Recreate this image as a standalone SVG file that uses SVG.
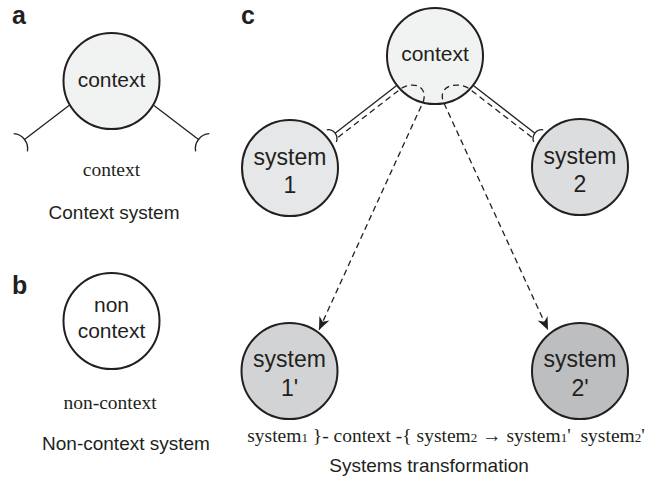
<svg xmlns="http://www.w3.org/2000/svg" width="653" height="485" viewBox="0 0 653 485">
  <style>
    .node { stroke: #231f20; stroke-width: 2; }
    .lbl { font-family: "Liberation Sans", Arial, sans-serif; fill: #231f20; text-anchor: middle; }
    .in21 { font-size: 21px; }
    .in23 { font-size: 23px; }
    .cap { font-family: "Liberation Sans", Arial, sans-serif; font-size: 19px; fill: #231f20; text-anchor: middle; }
    .serif { font-family: "Liberation Serif", "Times New Roman", serif; font-size: 19.5px; fill: #231f20; text-anchor: middle; }
    .panel { font-family: "Liberation Sans", Arial, sans-serif; font-size: 25px; font-weight: bold; fill: #231f20; }
    .solid { fill: none; stroke: #231f20; stroke-width: 1.3; }
    .dash { fill: none; stroke: #231f20; stroke-width: 1.3; stroke-dasharray: 6 4; }
  </style>
  <defs>
    <marker id="arrow" viewBox="-14 -7 15 14" refX="0" refY="0" markerWidth="15" markerHeight="14" markerUnits="userSpaceOnUse" orient="auto">
      <path d="M0,0 L-13,-5.5 L-9,0 L-13,5.5 Z" fill="#231f20" stroke="none"/>
    </marker>
  </defs>

  <rect width="653" height="485" fill="#ffffff"/>

  <!-- panel letters -->
  <text class="panel" x="12" y="23.5">a</text>
  <text class="panel" x="12" y="293.5">b</text>
  <text class="panel" x="241" y="23.5">c</text>

  <!-- panel a -->
  <g id="context-a">
    <circle class="node" cx="111.5" cy="81" r="48" fill="#f1f2f2"/>
    <text class="lbl in21" x="111.5" y="87">context</text>
  </g>
  <text class="serif" x="111.5" y="176">context</text>
  <text class="cap" x="114" y="219">Context system</text>

  <!-- panel b -->
  <g id="noncontext-b">
    <circle class="node" cx="111.5" cy="321" r="48" fill="#ffffff"/>
    <text class="lbl in21" x="111.5" y="312">non</text>
    <text class="lbl in21" x="111.5" y="338">context</text>
  </g>
  <text class="serif" x="110" y="409">non-context</text>
  <text class="cap" x="126" y="450">Non-context system</text>

  <!-- panel c -->
  <g id="context-c">
    <circle class="node" cx="435" cy="56" r="48" fill="#f1f2f2"/>
    <text class="lbl in21" x="435" y="61">context</text>
  </g>
  <g id="system1">
    <circle class="node" cx="290" cy="168" r="48" fill="#e6e7e8"/>
    <text class="lbl in23" x="290" y="165">system</text>
    <text class="lbl in23" x="290" y="193">1</text>
  </g>
  <g id="system2">
    <circle class="node" cx="580" cy="167" r="48" fill="#dcdddf"/>
    <text class="lbl in23" x="580" y="164">system</text>
    <text class="lbl in23" x="580" y="192">2</text>
  </g>
  <g id="system1p">
    <circle class="node" cx="289.5" cy="371" r="48" fill="#d1d3d4"/>
    <text class="lbl in23" x="289.5" y="367">system</text>
    <text class="lbl in23" x="289.5" y="396">1'</text>
  </g>
  <g id="system2p">
    <circle class="node" cx="580" cy="371" r="48" fill="#bcbec0"/>
    <text class="lbl in23" x="580" y="367">system</text>
    <text class="lbl in23" x="580" y="396">2'</text>
  </g>

  <!-- connectors (drawn over the circles so the paths through context stay visible) -->
  <g id="connectors">
    <!-- panel a: open sockets -->
    <path class="solid" d="M69,105.5 L24.5,139.5"/>
    <path class="solid" d="M13.7,133.7 A15,15 0 0 1 27.4,151.4"/>
    <path class="solid" d="M154,105.5 L198.5,139.5"/>
    <path class="solid" d="M209.3,133.7 A15,15 0 0 0 195.6,151.4"/>

    <!-- panel c: context to systems -->
    <path class="solid" d="M397,85.3 L335.1,133.2"/>
    <path class="solid" d="M326.8,129.8 A9,9 0 0 1 336.3,142.1"/>
    <path class="solid" d="M473,85.3 L534.9,133.2"/>
    <path class="solid" d="M543.2,129.8 A9,9 0 0 0 533.7,142.1"/>

    <!-- panel c: transformation paths -->
    <path class="dash" d="M338.2,137.2 L400.1,89.3 C410,81.5 428,84 423.5,101 L319,330" marker-end="url(#arrow)"/>
    <path class="dash" d="M531.8,137.2 L469.9,89.3 C460,81.5 438,84 443,101 L548,330" marker-end="url(#arrow)"/>
  </g>

  <text class="serif" x="446" y="442">system<tspan font-size="13">1</tspan> }- context -{ system<tspan font-size="13">2</tspan> → system<tspan font-size="13">1</tspan>' <tspan dx="5">system</tspan><tspan font-size="13">2</tspan>'</text>
  <text class="cap" x="429" y="472">Systems transformation</text>
</svg>
